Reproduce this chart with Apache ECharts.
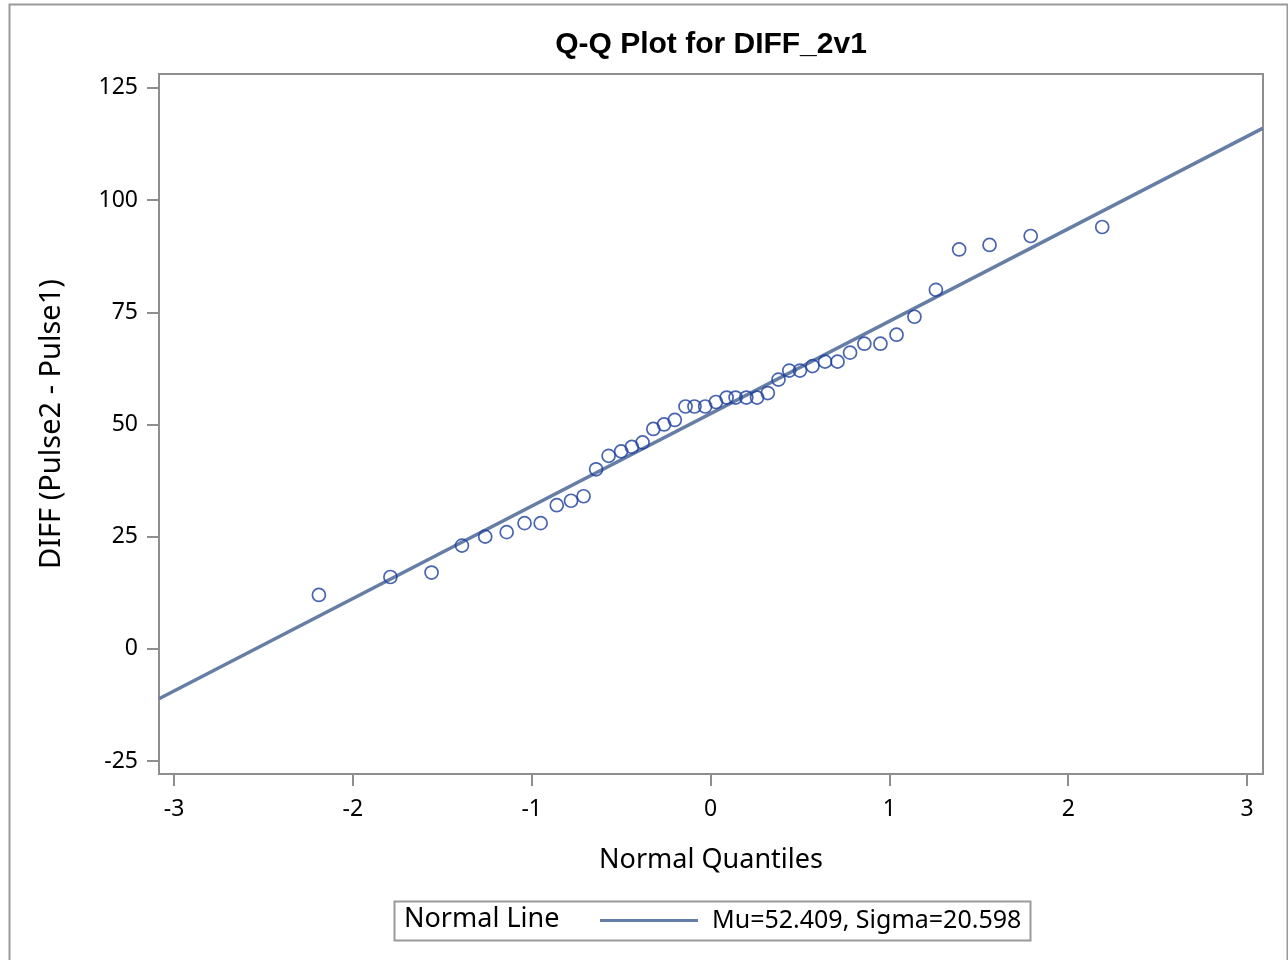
<!DOCTYPE html>
<html>
<head>
<meta charset="utf-8">
<script src="https://cdn.jsdelivr.net/npm/echarts@6/dist/echarts.min.js"></script>
<style>html,body{margin:0;padding:0;background:#fff}#c{width:1288px;height:960px}</style>
</head>
<body>
<div id="c"></div>
<script>
const quantiles = [-2.19,-1.79,-1.56,-1.39,-1.26,-1.14,-1.04,-0.95,-0.86,-0.78,-0.71,-0.64,-0.57,-0.50,-0.44,-0.38,-0.32,-0.26,-0.20,-0.14,-0.09,-0.03,
                    0.03,0.09,0.14,0.20,0.26,0.32,0.38,0.44,0.50,0.57,0.64,0.71,0.78,0.86,0.95,1.04,1.14,1.26,1.39,1.56,1.79,2.19];
const diffValues = [12,16,17,23,25,26,28,28,32,33,34,40,43,44,45,46,49,50,51,54,54,54,
                    55,56,56,56,56,57,60,62,62,63,64,64,66,68,68,70,74,80,89,90,92,94];
const mu = 52.409, sigma = 20.598;
const xTicks = [-3,-2,-1,0,1,2,3];
const yTicks = [-25,0,25,50,75,100,125];
const xMin = -3.084, xMax = 3.089, yMin = -27.9, yMax = 128.1;
const titleText = 'Q-Q Plot for DIFF_2v1';
const xName = 'Normal Quantiles';
const yName = 'DIFF (Pulse2 - Pulse1)';
const legendTitle = 'Normal Line';
const lineName = 'Mu=52.409, Sigma=20.598';

const points = quantiles.map((q, i) => [q, diffValues[i]]);
const lineData = [[xMin, mu + sigma * xMin], [xMax, mu + sigma * xMax]];

const FONT = '"Noto Sans", sans-serif';
const AX = '#8e8e8e';
const chart = echarts.init(document.getElementById('c'), null, {renderer: 'canvas'});
chart.setOption({
  animation: false,
  backgroundColor: '#fff',
  grid: {left: 159, right: 25, top: 74, bottom: 186, show: true, borderColor: AX, borderWidth: 2, backgroundColor: '#fff'},
  xAxis: {
    type: 'value', min: xMin, max: xMax,
    name: xName, nameLocation: 'middle', nameGap: 73,
    nameTextStyle: {fontFamily: FONT, fontSize: 27, color: '#000'},
    axisLine: {show: true, onZero: false, lineStyle: {color: AX, width: 2}},
    axisTick: {show: true, length: 12, customValues: xTicks, lineStyle: {color: AX, width: 2}},
    axisLabel: {customValues: xTicks, margin: 24, fontFamily: FONT, fontSize: 23, color: '#000'},
    splitLine: {show: false}
  },
  yAxis: {
    type: 'value', min: yMin, max: yMax,
    name: yName, nameLocation: 'middle', nameGap: 93,
    nameTextStyle: {fontFamily: FONT, fontSize: 29, color: '#000'},
    axisLine: {show: true, onZero: false, lineStyle: {color: AX, width: 2}},
    axisTick: {show: true, length: 12, customValues: yTicks, lineStyle: {color: AX, width: 2}},
    axisLabel: {customValues: yTicks, margin: 21, fontFamily: FONT, fontSize: 23, color: '#000'},
    splitLine: {show: false}
  },
  legend: {
    data: [{name: lineName, icon: 'rect'}],
    left: 595, top: 903,
    itemWidth: 98, itemHeight: 3,
    textStyle: {fontFamily: FONT, fontSize: 25, color: '#000', padding: [0, 0, 0, 9]},
    selectedMode: false
  },
  graphic: [
    {type: 'rect', left: 7, top: 2, shape: {width: 1278, height: 962}, style: {fill: 'none', stroke: '#9a9a9a', lineWidth: 2}, silent: true},
    {type: 'rect', left: 392, top: 899, shape: {width: 636, height: 39}, style: {fill: 'none', stroke: '#9a9a9a', lineWidth: 2}, silent: true},
    {type: 'text', left: 404, top: 906, style: {text: legendTitle, font: '27px "Noto Sans", sans-serif', fill: '#000'}, silent: true},
    {type: 'text', x: 711, y: 45, style: {text: titleText, font: 'bold 30px "Liberation Sans", Arial, sans-serif', fill: '#000', textAlign: 'center', textVerticalAlign: 'middle'}, silent: true}
  ],
  series: [
    {
      name: lineName, type: 'line', data: lineData, symbol: 'none',
      lineStyle: {color: '#667ea6', width: 3.5}, itemStyle: {color: '#667ea6'}, z: 2
    },
    {
      name: 'obs', type: 'scatter', data: points, symbol: 'circle', symbolSize: 13,
      itemStyle: {color: 'rgba(255,255,255,0)', borderColor: '#1a3d9e', borderWidth: 1.7}, z: 3
    }
  ]
});
</script>
</body>
</html>
